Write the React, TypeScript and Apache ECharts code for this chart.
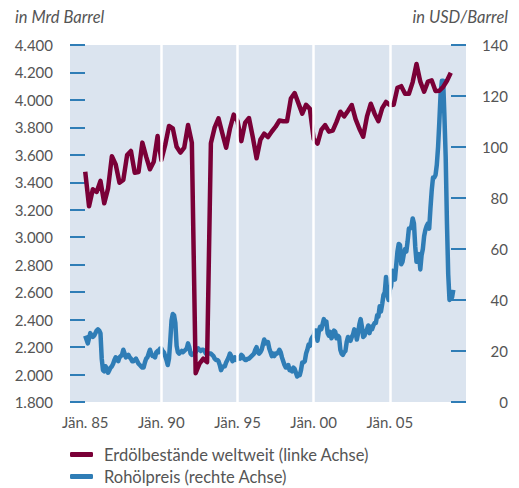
import React, { useEffect, useRef } from "react";
import * as echarts from "echarts";

// ---- data ----
const STOCK_START_YEAR = 1985; // quarterly values from Q1 1985
const stockValues = [
  3477, 3225, 3349, 3330, 3410, 3247, 3356, 3590, 3530, 3397, 3417, 3599,
  3628, 3470, 3475, 3689, 3587, 3495, 3550, 3737, 3562, 3672, 3810, 3793,
  3659, 3616, 3652, 3817, 3689, 2010, 2080, 2115, 2090, 3684, 3800, 3866,
  3757, 3652, 3790, 3893, 3845, 3700, 3835, 3868, 3730, 3575, 3710, 3755,
  3730, 3770, 3805, 3850, 3845, 3845, 4010, 4050, 3975, 3900, 3965, 3935,
  3715, 3682, 3781, 3817, 3769, 3776, 3840, 3914, 3880, 3920, 3963, 3860,
  3790, 3732, 3880, 3972, 3900, 3845, 3940, 3985, 3963, 3965, 4088, 4100,
  4045, 4045, 4130, 4262, 4133, 4060, 4133, 4142, 4065, 4067, 4095, 4140,
  4198,
];

const PRICE_START_YEAR = 1985; // monthly values from Jan 1985
const priceValues = [
  // 1985
  26, 24.5, 23, 25, 27, 26, 25.5, 26, 27, 28, 28.5, 28,
  // 1986
  27, 17, 12.5, 12, 14, 13, 11.5, 12.5, 13.5, 14, 15, 16.5,
  // 1987
  17.5, 16.5, 16, 17.5, 18, 18.5, 20.5, 19, 17.5, 18, 18.5, 17.5,
  // 1988
  17, 16, 16, 16.5, 17, 16, 15, 14.5, 14, 13.5, 13.5, 15.5,
  // 1989
  17, 17.5, 19, 20.5, 19, 18, 18, 17.5, 19.5, 20, 19.5, 21,
  // 1990
  21, 20, 19.5, 18, 16.5, 14.5, 17, 24, 32, 34.5, 34, 31,
  // 1991
  22, 19.5, 19, 19.5, 20, 19.5, 20, 20.5, 21, 23, 21.5, 19,
  // 1992
  18.5, 19, 19, 19.5, 20.5, 21, 20.5, 20, 20.5, 20.5, 20, 19,
  // 1993
  19, 19, 19, 19, 18.5, 18, 17, 16.5, 16.5, 16, 14.5, 12.5,
  // 1994
  13.5, 14, 14, 15.5, 16.5, 17.5, 19, 18, 16, 16.5, 17.5, 16.5,
  // 1995
  17, 17.5, 17, 18.5, 18, 17, 16.5, 16.5, 17, 17, 17.5, 18,
  // 1996
  18.5, 19, 20.5, 21.5, 19.5, 19, 19.5, 20.5, 22.5, 24.5, 23, 23.5,
  // 1997
  23.5, 21, 19.5, 18, 19, 18, 19, 19, 19.5, 20.5, 19.5, 17.5,
  // 1998
  16, 14.5, 13.5, 13.5, 14.5, 12.5, 12.5, 12, 13.5, 13, 11.5, 10,
  // 1999
  10.5, 10.5, 12.5, 15.5, 15.5, 16, 19, 20.5, 22.5, 22, 24.5, 25.5,
  // 2000
  26, 28, 28, 24, 27.5, 29.5, 28.5, 30.5, 32.5, 31, 31.5, 27,
  // 2001
  26, 27.5, 25, 26, 28, 27.5, 25, 26, 25.5, 20.5, 19, 18.5,
  // 2002
  19.5, 20, 23.5, 25.5, 25, 24, 25.5, 26.5, 28.5, 27.5, 24.5, 27,
  // 2003
  30.5, 32.5, 29.5, 25.5, 26, 27.5, 28.5, 30, 27, 29.5, 28.5, 30,
  // 2004
  31, 31, 34, 33.5, 37.5, 35.5, 38.5, 42, 43, 49, 42, 40,
  // 2005
  44, 45.5, 51.5, 50.5, 48, 53.5, 59, 62, 61.5, 54, 55, 58,
  // 2006
  60, 59, 63, 68, 68, 69, 72, 70, 61, 55, 56, 58,
  // 2007
  52, 57.5, 60, 65, 67.5, 69, 70, 68, 76, 83, 88, 88,
  // 2008
  89, 93, 100, 110, 121, 126, 126, 112, 96, 70, 50, 40,
  // 2009
  42, 41, 44,
];

const xLabelYears = [1985, 1990, 1995, 2000, 2005];
const gridLineYears = [1990, 1995, 2000, 2005];

const SERIES_STOCK = "Erdölbestände weltweit (linke Achse)";
const SERIES_PRICE = "Rohölpreis (rechte Achse)";
const LEFT_UNIT = "in Mrd Barrel";
const RIGHT_UNIT = "in USD/Barrel";

// ---- styles ----
const FONT = 'Lato, "Open Sans", sans-serif';
const TEXT = "#555555";
const BLUE = "#2f7db6";
const RED = "#7a0037";
const BG = "#dbe4ef";

const fmtThousands = (v: number) => {
  const th = Math.floor(v / 1000);
  const rest = Math.round(v % 1000);
  return th > 0 ? `${th}.${String(rest).padStart(3, "0")}` : String(rest);
};

const legendBase = {
  left: 70,
  padding: 0,
  itemWidth: 23,
  itemHeight: 5,
  icon: "roundRect",
  selectedMode: false,
  textStyle: {
    color: TEXT,
    fontSize: 16.5,
    fontFamily: FONT,
    padding: [0, 0, 0, 6],
  },
};

export default function App() {
  const ref = useRef<HTMLDivElement>(null);

  useEffect(() => {
    document.body.style.margin = "0";
    if (!ref.current) return;
    const chart = echarts.init(ref.current, undefined, { renderer: "svg" });

    const stockData = stockValues.map((v, i) => [STOCK_START_YEAR + i * 0.25, v]);
    const priceData = priceValues.map((v, i) => [PRICE_START_YEAR + i / 12, v]);

    chart.setOption({
      animation: false,
      textStyle: { fontFamily: FONT },
      grid: {
        left: 70,
        right: 53,
        top: 45,
        bottom: 86,
        show: true,
        backgroundColor: BG,
        borderWidth: 0,
      },
      xAxis: {
        type: "value",
        min: 1984,
        max: 2010,
        interval: 1,
        axisLine: { show: false },
        axisTick: { show: false },
        splitLine: { show: false },
        axisLabel: {
          formatter: (v: number) =>
            xLabelYears.includes(v) ? "Jän. " + String(v).slice(2) : "",
          color: TEXT,
          fontSize: 15,
          fontFamily: FONT,
          margin: 12,
          hideOverlap: false,
        },
      },
      yAxis: [
        {
          type: "value",
          position: "left",
          min: 1800,
          max: 4400,
          interval: 200,
          axisLine: { show: false },
          axisTick: {
            show: true,
            inside: true,
            length: 15,
            lineStyle: { color: BLUE, width: 2 },
          },
          splitLine: { show: false },
          axisLabel: {
            formatter: (v: number) => fmtThousands(v),
            color: TEXT,
            fontSize: 15,
            fontFamily: FONT,
            margin: 17,
          },
        },
        {
          type: "value",
          position: "right",
          min: 0,
          max: 140,
          interval: 20,
          axisLine: { show: false },
          axisTick: {
            show: true,
            inside: true,
            length: 15,
            lineStyle: { color: BLUE, width: 2 },
          },
          splitLine: { show: false },
          axisLabel: {
            color: TEXT,
            fontSize: 15,
            fontFamily: FONT,
            align: "right",
            margin: 42,
          },
        },
      ],
      legend: [
        { ...legendBase, data: [SERIES_STOCK], top: 446 },
        { ...legendBase, data: [SERIES_PRICE], top: 468 },
      ],
      graphic: [
        {
          type: "text",
          left: 15,
          top: 8,
          style: {
            text: LEFT_UNIT,
            fill: TEXT,
            font: `italic 16.5px ${FONT}`,
          },
        },
        {
          type: "text",
          right: 11,
          top: 8,
          style: {
            text: RIGHT_UNIT,
            fill: TEXT,
            font: `italic 16.5px ${FONT}`,
          },
        },
      ],
      series: [
        {
          name: "grid",
          type: "line",
          data: [],
          z: 1,
          silent: true,
          markLine: {
            silent: true,
            symbol: "none",
            label: { show: false },
            emphasis: { disabled: true },
            lineStyle: { color: "#ffffff", width: 2.5, type: "solid" },
            data: gridLineYears.map((y) => ({ xAxis: y })),
          },
        },
        {
          name: SERIES_PRICE,
          type: "line",
          yAxisIndex: 1,
          data: priceData,
          showSymbol: false,
          symbol: "none",
          z: 3,
          lineStyle: { color: BLUE, width: 4.5, join: "round" },
          itemStyle: { color: BLUE },
        },
        {
          name: SERIES_STOCK,
          type: "line",
          yAxisIndex: 0,
          data: stockData,
          showSymbol: false,
          symbol: "none",
          z: 4,
          lineStyle: { color: RED, width: 4.5, join: "round" },
          itemStyle: { color: RED },
        },
      ],
    });

    return () => chart.dispose();
  }, []);

  return <div ref={ref} style={{ width: 519, height: 488 }} />;
}
